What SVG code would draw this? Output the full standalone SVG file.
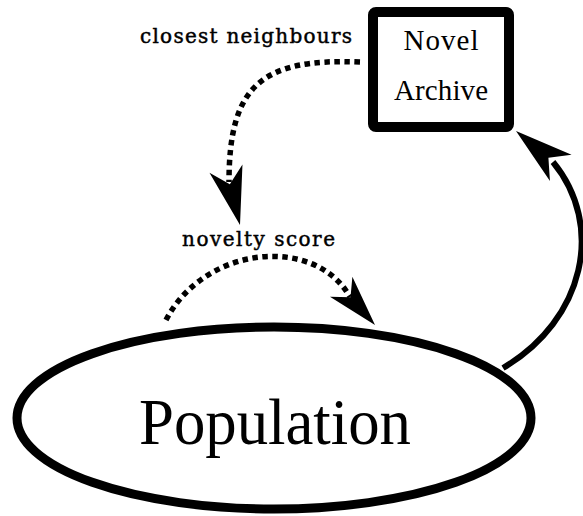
<svg xmlns="http://www.w3.org/2000/svg" width="583" height="516" viewBox="0 0 583 516">
  <style>
    .node-shape { fill: #ffffff; stroke: #000000; }
    .big { font-family: "Liberation Serif", "Times New Roman", serif; fill: #000000; text-anchor: middle; }
    .label { font-family: "DejaVu Serif", "Liberation Serif", serif; font-size: 20px; fill: #000000; stroke: #000000; stroke-width: 0.45; text-anchor: middle; }
    .dotted { fill: none; stroke: #000000; stroke-width: 5.5; stroke-dasharray: 5.5 4.5; }
    .solid { fill: none; stroke: #000000; stroke-width: 6; }
  </style>
  <defs>
    <!-- stealth-style arrowhead, tip at origin pointing along +x -->
    <path id="stealth" d="M0,0 L-58,-17 L-42,0 L-58,17 Z" fill="#000000"/>
  </defs>

  <rect width="583" height="516" fill="#ffffff"/>

  <g id="connectors">
    <!-- archive to neighbour lookup -->
    <path class="dotted" d="M360,62 C262,58 229,85 229,182"/>
    <use href="#stealth" transform="translate(240,225) rotate(76)"/>
    <!-- novelty score back to population -->
    <path class="dotted" d="M166,320 C205,245 315,235 350,297"/>
    <use href="#stealth" transform="translate(375,325) rotate(48.5) scale(0.88)"/>
    <!-- population feeds the archive -->
    <path class="solid" d="M503,368 C585,320 605,225 553,162"/>
    <use href="#stealth" transform="translate(516,131) rotate(-140.5)"/>
  </g>

  <g id="label-closest">
    <text class="label" x="246" y="43" textLength="212" lengthAdjust="spacing">closest neighbours</text>
  </g>
  <g id="label-novelty">
    <text class="label" x="258.5" y="246" textLength="153" lengthAdjust="spacing">novelty score</text>
  </g>

  <g id="archive">
    <rect class="node-shape" x="373" y="12" width="136" height="115" rx="3" stroke-width="10"/>
    <text class="big" x="441" y="50" font-size="29" textLength="75" lengthAdjust="spacing">Novel</text>
    <text class="big" x="441" y="100" font-size="29" textLength="94" lengthAdjust="spacing">Archive</text>
  </g>

  <g id="population">
    <ellipse class="node-shape" cx="274" cy="418" rx="257" ry="91" stroke-width="9"/>
    <text class="big" x="275" y="444" font-size="65" textLength="272" lengthAdjust="spacingAndGlyphs">Population</text>
  </g>
</svg>
